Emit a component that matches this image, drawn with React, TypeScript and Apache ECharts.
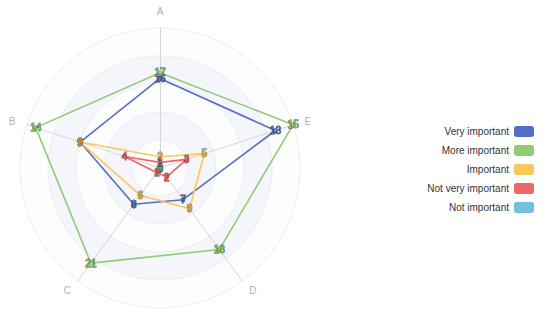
import React, { useEffect, useRef } from "react";
import * as echarts from "echarts";

const indicatorNames = ["A", "B", "C", "D", "E"];
const indicatorMax = [25, 15, 25, 25, 15];
const seriesNames = ["Very important", "More important", "Important", "Not very important", "Not important"];
const colors = ["#5470c6", "#91cc75", "#fac858", "#ee6666", "#73c0de"];
const veryImportant = [16, 9, 8, 7, 13];
const moreImportant = [17, 14, 21, 18, 15];
const important = [2, 9, 6, 9, 5];
const notVeryImportant = [1, 4, 1, 2, 3];
const notImportant = [0, 0, 0, 0, 0];

const seriesValues = [veryImportant, moreImportant, important, notVeryImportant, notImportant];

export default function App() {
  const ref = useRef<HTMLDivElement>(null);
  useEffect(() => {
    if (!ref.current) return;
    const chart = echarts.init(ref.current, null, { renderer: "svg" });
    const font = "'Liberation Sans', Arial, sans-serif";
    chart.setOption({
      animation: false,
      color: colors,
      textStyle: { fontFamily: font },
      legend: {
        orient: "vertical",
        right: 11,
        top: 121,
        align: "right",
        itemWidth: 20,
        itemHeight: 11,
        itemGap: 8,
        textStyle: { fontSize: 10, color: "#333", fontFamily: font },
        data: seriesNames,
      },
      radar: {
        center: [160, 168],
        radius: 140,
        shape: "circle",
        splitNumber: 5,
        nameGap: 12,
        axisName: { color: "#b0b0b0", fontSize: 10, fontFamily: font },
        indicator: indicatorNames.map((n, i) => ({ name: n, max: indicatorMax[i] })),
        axisLine: { lineStyle: { color: "#ccc", width: 0.8 } },
        splitLine: { lineStyle: { color: "#e6e9f0", width: 0.8 } },
        splitArea: {
          show: true,
          areaStyle: { color: ["rgba(250,250,250,0.3)", "rgba(210,219,238,0.25)"] },
        },
      },
      series: [
        {
          type: "radar",
          symbol: "emptyCircle",
          symbolSize: 3,
          lineStyle: { width: 1.6 },
          label: {
            show: true,
            position: "inside",
            fontSize: 10,
            fontFamily: font,
            textBorderColor: "rgba(30,30,30,0.85)",
            textBorderWidth: 0.8,
          },
          data: seriesNames.map((name, i) => ({
            name,
            value: seriesValues[i],
            label: { color: colors[i] },
          })),
        },
      ],
    });
    return () => chart.dispose();
  }, []);
  return (
    <div
      ref={ref}
      style={{ position: "fixed", left: 0, top: 0, width: 550, height: 317, background: "#fff" }}
    />
  );
}
